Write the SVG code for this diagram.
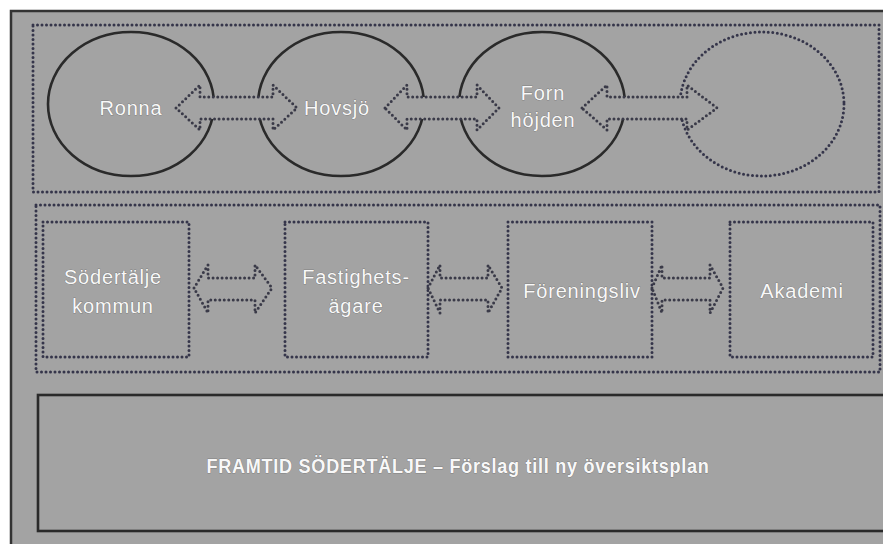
<svg xmlns="http://www.w3.org/2000/svg" width="883" height="544" viewBox="0 0 883 544">
<style>
.dot{fill:none;stroke:#35354a;stroke-width:3;stroke-dasharray:0 4.5;stroke-linecap:round;stroke-linejoin:round}
.arr{fill:#a3a3a3;stroke:#3a3a48;stroke-width:3;stroke-dasharray:0 4.5;stroke-linecap:round;stroke-linejoin:round}
.sol{fill:none;stroke:#2a2a2a;stroke-width:2.6}
.t{font-family:"Liberation Sans",Arial,sans-serif;font-size:20px;letter-spacing:0.8px;fill:#f8f8f8;text-anchor:middle;stroke:#5a5a5a;stroke-width:0.5;paint-order:stroke}
</style>
<rect x="0" y="0" width="883" height="544" fill="#ffffff"/>
<rect x="11" y="11" width="880" height="540" fill="#a3a3a3" stroke="#333" stroke-width="2.5"/>
<g id="top-group"><rect class="dot" x="33" y="25" width="846" height="167"/></g>
<g id="mid-group"><rect class="dot" x="36" y="205" width="844" height="167"/></g>
<g id="ronna"><ellipse class="sol" cx="131" cy="104" rx="83" ry="72"/><text class="t" x="131" y="115">Ronna</text></g>
<g id="hovsjo"><ellipse class="sol" cx="341" cy="104" rx="83" ry="72"/><text class="t" x="337" y="115">Hovsjö</text></g>
<g id="fornhojden"><ellipse class="sol" cx="542" cy="104" rx="83" ry="72"/><text class="t" x="543" y="100">Forn</text><text class="t" x="543" y="127">höjden</text></g>
<g id="empty-circle"><ellipse class="dot" cx="762" cy="104" rx="82" ry="72"/></g>
<g id="sodertalje"><rect class="dot" x="43" y="222" width="146" height="135"/><text class="t" x="113" y="284">Södertälje</text><text class="t" x="113" y="313">kommun</text></g>
<g id="fastighetsagare"><rect class="dot" x="285" y="222" width="143" height="135"/><text class="t" x="356" y="284">Fastighets-</text><text class="t" x="356" y="313">ägare</text></g>
<g id="foreningsliv"><rect class="dot" x="508" y="222" width="144" height="135"/><text class="t" x="582" y="298">Föreningsliv</text></g>
<g id="akademi"><rect class="dot" x="730" y="222" width="143" height="135"/><text class="t" x="802" y="298">Akademi</text></g>
<g id="plan"><rect x="38" y="395" width="850" height="136" fill="none" stroke="#2a2a2a" stroke-width="2.6"/><text class="t" x="458" y="473" textLength="503" lengthAdjust="spacingAndGlyphs" font-size="18" font-weight="bold" letter-spacing="0">FRAMTID SÖDERTÄLJE – Förslag till ny översiktsplan</text></g>
<g id="connectors">
<polygon class="arr" points="176,108 200,85 200,97 273,97 273,85 297,108 273,130 273,119 200,119 200,130"/>
<polygon class="arr" points="385,108 407,85 407,97 477,97 477,85 499,108 477,130 477,119 407,119 407,130"/>
<polygon class="arr" points="582,108 607,85 607,97 687,97 687,85 717,108 687,130 687,119 607,119 607,130"/>
<polygon class="arr" points="194,288 208,265 208,278 255,278 255,265 272,288 255,313 255,300 208,300 208,313"/>
<polygon class="arr" points="428,288 440,265 440,278 488,278 488,265 502,288 488,313 488,300 440,300 440,313"/>
<polygon class="arr" points="652,288 662,265 662,278 710,278 710,265 723,288 710,313 710,300 662,300 662,313"/>
</g>
</svg>
